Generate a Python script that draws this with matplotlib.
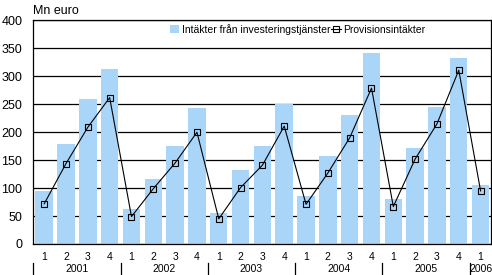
import matplotlib
matplotlib.use("Agg")
import matplotlib.pyplot as plt
import matplotlib.transforms as mtransforms
import numpy as np

years = ["2001", "2002", "2003", "2004", "2005", "2006"]
quarters = ["1", "2", "3", "4"] * 5 + ["1"]
investering = [95, 179, 259, 313, 63, 116, 176, 243, 55, 132, 175, 251,
               86, 157, 230, 341, 80, 171, 246, 332, 105]
provision = [72, 144, 209, 262, 49, 99, 145, 200, 45, 101, 141, 211,
             71, 127, 190, 279, 67, 152, 215, 311, 95]
yticks = [0, 50, 100, 150, 200, 250, 300, 350, 400]

plt.rcParams['font.family'] = ['Liberation Sans', 'DejaVu Sans']

fig = plt.figure(figsize=(4.92, 2.75), dpi=100)
ax = fig.add_axes([33.3/492, 31/275, (491.5-33.3)/492, (244-20.5)/275])

x = np.arange(len(investering))
bars = ax.bar(x, investering, width=0.8, color='#A9D5F9', zorder=2,
              label='Intäkter från investeringstjänster')
line, = ax.plot(x, provision, color='black', lw=0.8, marker='s', ms=4.5,
                mfc='none', mec='black', mew=0.8, zorder=3, label='Provisionsintäkter')

ax.set_xlim(-0.5, len(x) - 0.5)
ax.set_ylim(0, 400)
ax.set_yticks(yticks)
ax.yaxis.grid(True, color='black', lw=0.9, zorder=1)
ax.set_axisbelow(True)
ax.tick_params(axis='y', length=0, pad=8, labelsize=9)
ax.set_xticks(x)
ax.set_xticklabels(quarters, fontsize=7.5)
ax.tick_params(axis='x', length=0, pad=6)
for s in ax.spines.values():
    s.set_color('black')
    s.set_linewidth(0.9)

trans = mtransforms.blended_transform_factory(ax.transData, ax.transAxes)
bounds = [-0.5, 3.5, 7.5, 11.5, 15.5, 19.5]
sizes = [4, 4, 4, 4, 4, 1]
for b, n, yr in zip(bounds, sizes, years):
    ax.plot([b, b], [-0.083, -0.14], color='black', lw=0.9, transform=trans, clip_on=False)
    ax.text(b + n / 2, -0.113, yr, transform=trans, ha='center', va='center', fontsize=7.5)

fig.text(33/492, 1 - 10.5/275, 'Mn euro', fontsize=9, ha='left', va='center')

ax.legend(handles=[bars, line], loc='upper left', bbox_to_anchor=(0.298, 0.985),
          ncol=2, frameon=False, fontsize=7.5, handlelength=0.9, handleheight=0.7,
          handletextpad=0.25, columnspacing=0.1, borderpad=0, borderaxespad=0)

fig.savefig('out.png', dpi=100)
